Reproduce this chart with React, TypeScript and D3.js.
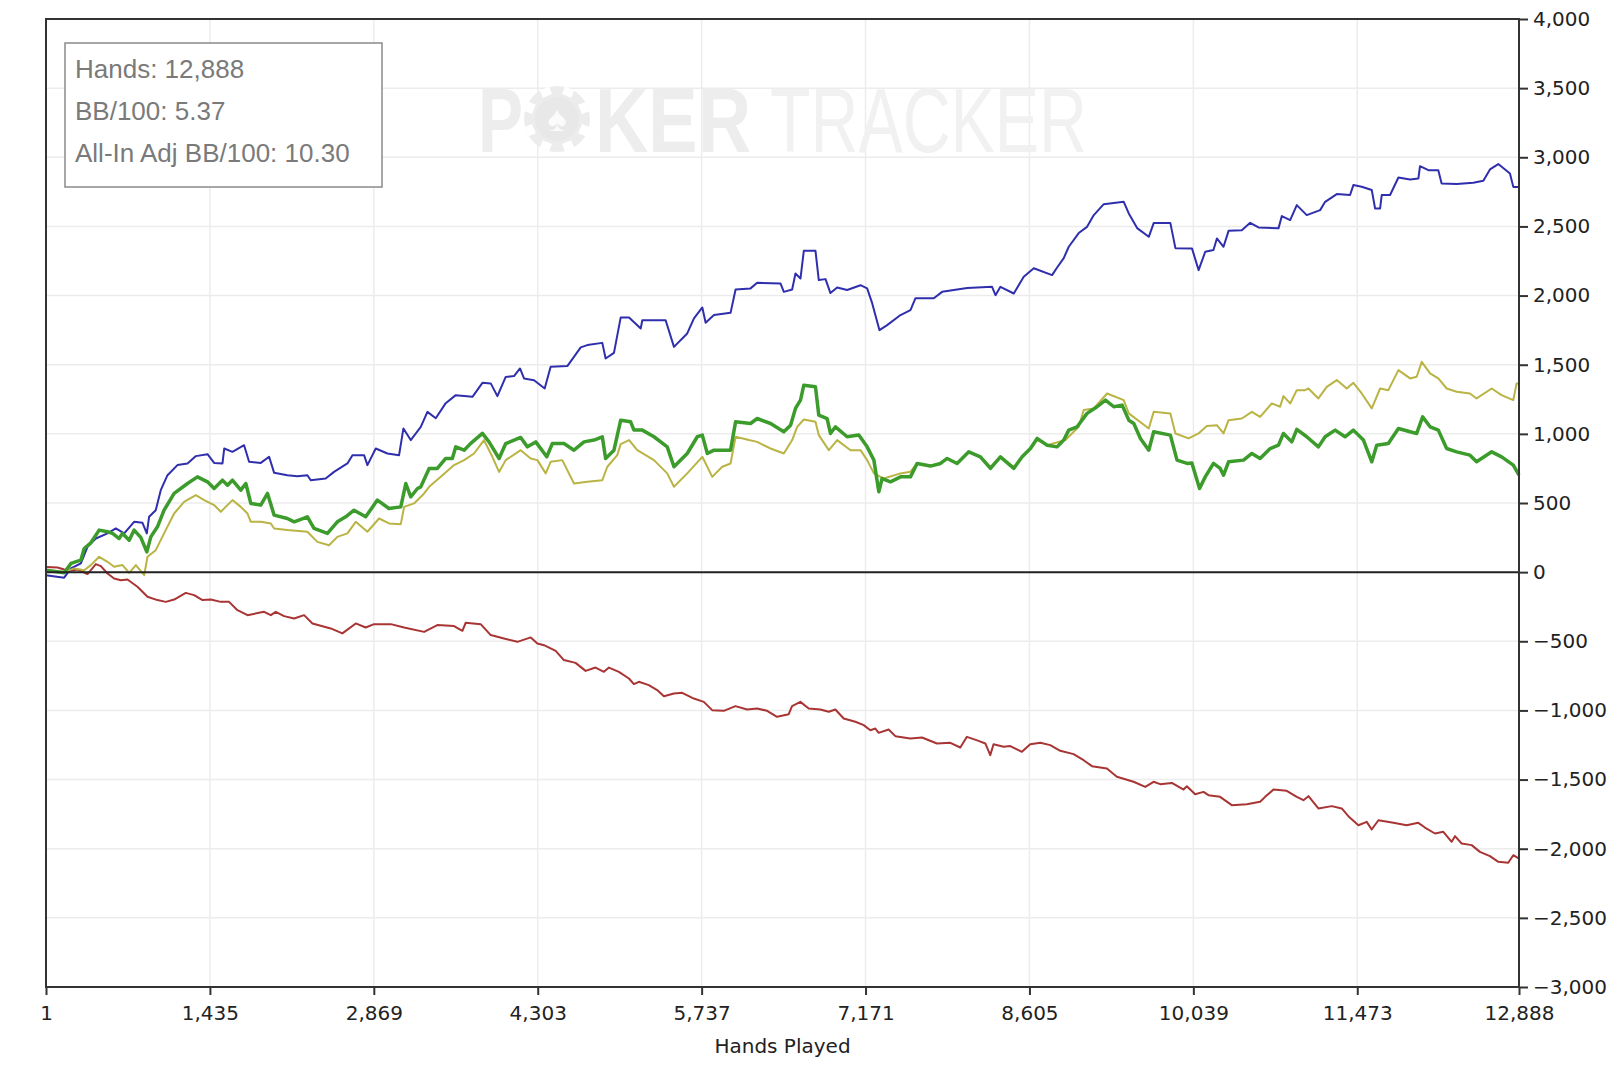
import { useEffect, useRef } from "react";
import * as d3 from "d3";

type Pt = [number, number];

const xTicks = [1, 1435, 2869, 4303, 5737, 7171, 8605, 10039, 11473, 12888];
const yTicks = [-3000, -2500, -2000, -1500, -1000, -500, 0, 500, 1000, 1500, 2000, 2500, 3000, 3500, 4000];
const statLines = ["Hands: 12,888", "BB/100: 5.37", "All-In Adj BB/100: 10.30"];

// won at showdown (blue)
const showdown: Pt[] = [
  [1, -22], [160, -40], [219, 27], [306, 63], [364, 183], [437, 243], [539, 280], [612, 316], [685, 280],
  [772, 364], [845, 357], [883, 280], [903, 400], [961, 448], [1005, 593], [1064, 701], [1151, 774],
  [1239, 786], [1312, 839], [1414, 853], [1472, 790], [1545, 786], [1560, 894], [1632, 870], [1734, 918],
  [1778, 798], [1880, 790], [1953, 834], [1997, 718], [2113, 701], [2201, 694], [2288, 701], [2317, 665],
  [2448, 677], [2521, 725], [2638, 786], [2682, 846], [2784, 846], [2813, 774], [2886, 894], [2988, 858],
  [3090, 846], [3128, 1039], [3192, 955], [3280, 1051], [3338, 1159], [3411, 1113], [3498, 1222],
  [3586, 1280], [3732, 1268], [3819, 1369], [3892, 1365], [3950, 1273], [4023, 1412], [4096, 1418],
  [4148, 1473], [4183, 1401], [4271, 1388], [4364, 1328], [4416, 1485], [4562, 1490], [4620, 1557],
  [4679, 1625], [4737, 1642], [4868, 1658], [4897, 1545], [4970, 1586], [5029, 1842], [5102, 1842],
  [5204, 1762], [5218, 1822], [5422, 1822], [5495, 1629], [5611, 1726], [5670, 1835], [5743, 1914],
  [5772, 1803], [5845, 1859], [5990, 1875], [6034, 2044], [6165, 2052], [6223, 2092], [6427, 2088],
  [6456, 2027], [6529, 2044], [6558, 2160], [6602, 2124], [6631, 2324], [6733, 2324], [6762, 2112],
  [6821, 2119], [6864, 2018], [6923, 2059], [7010, 2040], [7127, 2075], [7185, 2052], [7229, 1945],
  [7293, 1750], [7360, 1786], [7477, 1859], [7564, 1895], [7608, 1981], [7768, 1981], [7841, 2027],
  [8060, 2054], [8278, 2063], [8308, 2003], [8351, 2063], [8468, 2015], [8555, 2136], [8643, 2198],
  [8803, 2148], [8847, 2203], [8905, 2271], [8949, 2353], [9036, 2452], [9109, 2497], [9168, 2582],
  [9255, 2661], [9430, 2678], [9474, 2594], [9547, 2488], [9649, 2425], [9692, 2524], [9838, 2524],
  [9882, 2343], [10027, 2341], [10085, 2184], [10143, 2317], [10215, 2329], [10245, 2413], [10303, 2353],
  [10347, 2468], [10463, 2473], [10536, 2526], [10609, 2493], [10784, 2486], [10813, 2575], [10886, 2546],
  [10944, 2654], [11031, 2582], [11148, 2618], [11192, 2678], [11294, 2734], [11410, 2727], [11439, 2799],
  [11512, 2787], [11600, 2763], [11629, 2630], [11673, 2630], [11687, 2727], [11760, 2727], [11833, 2854],
  [11935, 2840], [12008, 2847], [12022, 2936], [12095, 2907], [12182, 2907], [12211, 2811], [12343, 2806],
  [12488, 2816], [12576, 2830], [12634, 2912], [12707, 2951], [12809, 2883], [12838, 2786], [12888, 2786],
];

// net won (green)
const netWon: Pt[] = [
  [1, 14], [160, -5], [219, 63], [306, 87], [335, 171], [393, 212], [466, 304], [539, 292], [583, 280],
  [641, 243], [670, 280], [729, 231], [772, 304], [830, 251], [883, 147], [918, 255], [976, 328],
  [1034, 448], [1122, 569], [1239, 641], [1326, 689], [1414, 653], [1472, 605], [1545, 665], [1589, 629],
  [1632, 665], [1705, 593], [1749, 641], [1793, 497], [1880, 485], [1939, 569], [1997, 412], [2113, 388],
  [2172, 364], [2288, 400], [2346, 316], [2463, 280], [2550, 364], [2623, 400], [2696, 448], [2798, 400],
  [2900, 521], [3002, 460], [3105, 472], [3149, 641], [3192, 545], [3251, 605], [3280, 617], [3353, 750],
  [3425, 750], [3498, 822], [3556, 822], [3586, 906], [3659, 882], [3717, 931], [3819, 1003], [3877, 942],
  [3965, 822], [4023, 930], [4154, 974], [4213, 906], [4286, 942], [4382, 834], [4431, 930], [4533, 930],
  [4620, 882], [4708, 942], [4795, 955], [4868, 979], [4897, 822], [4970, 882], [5029, 1099], [5116, 1087],
  [5145, 1027], [5218, 1027], [5320, 979], [5436, 906], [5495, 762], [5611, 858], [5699, 979], [5743, 991],
  [5787, 858], [5845, 882], [5990, 882], [6034, 1087], [6165, 1075], [6223, 1111], [6340, 1075],
  [6456, 1015], [6515, 1063], [6558, 1184], [6602, 1244], [6631, 1352], [6733, 1340], [6762, 1135],
  [6835, 1111], [6864, 1003], [6908, 1051], [7010, 979], [7112, 991], [7185, 906], [7244, 810], [7287, 581],
  [7316, 677], [7389, 653], [7477, 689], [7564, 689], [7622, 786], [7739, 767], [7827, 786], [7885, 822],
  [7972, 786], [8074, 870], [8176, 834], [8264, 750], [8351, 834], [8468, 750], [8541, 834], [8614, 894],
  [8672, 967], [8760, 918], [8847, 906], [8905, 955], [8949, 1027], [9022, 1051], [9109, 1148],
  [9197, 1196], [9270, 1244], [9343, 1196], [9416, 1208], [9474, 1099], [9518, 1075], [9576, 967],
  [9649, 882], [9692, 1015], [9838, 991], [9896, 810], [9984, 786], [10026, 790], [10093, 605],
  [10143, 689], [10215, 786], [10274, 750], [10303, 701], [10347, 798], [10478, 810], [10551, 858],
  [10623, 822], [10711, 894], [10784, 918], [10827, 1003], [10900, 942], [10944, 1032], [11031, 979],
  [11133, 906], [11192, 979], [11279, 1027], [11366, 979], [11439, 1027], [11527, 955], [11600, 798],
  [11643, 918], [11745, 931], [11833, 1039], [11935, 1015], [11993, 1003], [12045, 1123], [12110, 1051],
  [12182, 1027], [12255, 894], [12343, 870], [12459, 846], [12517, 798], [12649, 870], [12736, 834],
  [12838, 774], [12888, 701],
];

// all-in EV (olive)
const allInEv: Pt[] = [
  [1, 14], [160, 2], [248, 27], [335, 14], [393, 51], [466, 111], [539, 75], [597, 39], [670, 51],
  [729, -5], [787, 51], [860, -22], [889, 111], [961, 159], [1034, 280], [1122, 424], [1209, 508],
  [1312, 557], [1385, 521], [1472, 485], [1530, 436], [1632, 521], [1705, 472], [1764, 424], [1793, 364],
  [1880, 364], [1968, 352], [1997, 316], [2113, 304], [2288, 292], [2375, 219], [2477, 195], [2550, 255],
  [2638, 280], [2711, 364], [2813, 292], [2915, 388], [3002, 352], [3105, 347], [3134, 472], [3221, 497],
  [3309, 569], [3353, 617], [3455, 689], [3571, 774], [3659, 810], [3746, 858], [3833, 955], [3906, 834],
  [3965, 725], [4023, 810], [4154, 882], [4242, 822], [4300, 810], [4373, 714], [4416, 798], [4518, 810],
  [4620, 641], [4737, 653], [4868, 665], [4912, 762], [4999, 846], [5029, 926], [5102, 955], [5174, 882],
  [5320, 810], [5436, 714], [5495, 617], [5611, 714], [5743, 834], [5830, 689], [5917, 762], [5990, 786],
  [6034, 979], [6151, 955], [6223, 942], [6340, 894], [6456, 858], [6529, 955], [6573, 1051], [6631, 1104],
  [6733, 1087], [6762, 991], [6850, 882], [6923, 955], [7040, 882], [7127, 882], [7185, 810], [7244, 714],
  [7331, 677], [7477, 714], [7564, 726], [7622, 786], [7739, 767], [7827, 786], [7885, 822], [7972, 786],
  [8074, 870], [8176, 834], [8264, 760], [8351, 834], [8468, 760], [8541, 834], [8614, 894], [8672, 955],
  [8760, 918], [8920, 955], [9036, 1051], [9080, 1172], [9168, 1184], [9284, 1292], [9430, 1244],
  [9474, 1148], [9649, 1039], [9692, 1159], [9838, 1148], [9882, 1003], [9998, 967], [10084, 1003],
  [10157, 1056], [10245, 1063], [10303, 1003], [10347, 1099], [10463, 1111], [10551, 1159], [10623, 1123],
  [10725, 1220], [10798, 1196], [10827, 1273], [10886, 1220], [10944, 1316], [11017, 1316], [11046, 1328],
  [11133, 1256], [11206, 1340], [11294, 1389], [11381, 1328], [11439, 1369], [11512, 1292], [11600, 1184],
  [11673, 1328], [11745, 1316], [11833, 1461], [11935, 1401], [11993, 1413], [12037, 1521], [12110, 1437],
  [12182, 1401], [12255, 1328], [12343, 1304], [12459, 1292], [12517, 1256], [12649, 1328], [12736, 1280],
  [12838, 1244], [12867, 1365], [12888, 1365],
];

// won without showdown (red)
const nonShowdown: Pt[] = [
  [1, 38], [102, 34], [160, 19], [219, 10], [277, 19], [364, -14], [437, 58], [481, 43], [539, -10],
  [597, -46], [656, -58], [714, -53], [801, -106], [889, -178], [976, -202], [1049, -215], [1122, -198],
  [1224, -150], [1297, -166], [1370, -202], [1443, -198], [1530, -215], [1603, -215], [1676, -275],
  [1764, -311], [1909, -287], [1968, -311], [2011, -287], [2084, -318], [2172, -335], [2259, -311],
  [2332, -371], [2492, -407], [2594, -443], [2711, -371], [2798, -400], [2871, -376], [3017, -376],
  [3134, -400], [3309, -432], [3425, -383], [3571, -390], [3644, -424], [3673, -366], [3804, -376],
  [3892, -455], [4008, -480], [4125, -504], [4242, -472], [4300, -516], [4358, -528], [4460, -569],
  [4532, -636], [4634, -656], [4722, -714], [4809, -690], [4882, -721], [4926, -690], [5013, -721],
  [5101, -769], [5144, -810], [5188, -793], [5275, -817], [5348, -853], [5407, -897], [5494, -877],
  [5567, -873], [5669, -914], [5756, -938], [5829, -998], [5931, -1003], [6033, -969], [6135, -993],
  [6223, -986], [6310, -1003], [6397, -1046], [6499, -1027], [6528, -969], [6601, -938], [6674, -986],
  [6776, -993], [6849, -1010], [6907, -993], [6980, -1058], [7082, -1082], [7155, -1106], [7213, -1143],
  [7257, -1131], [7286, -1162], [7373, -1138], [7432, -1186], [7563, -1203], [7665, -1196], [7796, -1239],
  [7913, -1234], [8000, -1268], [8058, -1191], [8160, -1220], [8219, -1239], [8262, -1323], [8291, -1244],
  [8379, -1263], [8437, -1258], [8539, -1299], [8612, -1244], [8700, -1234], [8787, -1251], [8875, -1292],
  [8991, -1316], [9079, -1360], [9152, -1403], [9283, -1420], [9370, -1480], [9516, -1516], [9618, -1553],
  [9691, -1516], [9749, -1533], [9851, -1524], [9953, -1572], [9982, -1548], [10055, -1606], [10128, -1589],
  [10171, -1613], [10273, -1625], [10375, -1685], [10507, -1678], [10623, -1661], [10667, -1625],
  [10740, -1572], [10856, -1581], [10944, -1625], [11002, -1649], [11046, -1620], [11133, -1709],
  [11250, -1692], [11337, -1709], [11395, -1765], [11483, -1830], [11556, -1806], [11599, -1861],
  [11658, -1794], [11789, -1813], [11905, -1830], [12007, -1813], [12065, -1847], [12153, -1890],
  [12226, -1878], [12299, -1950], [12328, -1909], [12386, -1962], [12474, -1974], [12546, -2023],
  [12634, -2054], [12707, -2095], [12794, -2102], [12838, -2047], [12888, -2071],
];

const W = 1624;
const H = 1066;

export default function App() {
  const svgRef = useRef<SVGSVGElement>(null);

  useEffect(() => {
    if (!svgRef.current) return;
    const svg = d3.select(svgRef.current);
    svg.selectAll("*").remove();

    const left = 46;
    const right = 1519;
    const top = 19;
    const bottom = 987;

    const x = d3.scaleLinear().domain([1, 12888]).range([left, right]);
    const y = d3.scaleLinear().domain([-3000, 4000]).range([bottom, top]);
    const axisFont = "'DejaVu Sans', Verdana, sans-serif";

    svg.append("rect").attr("width", W).attr("height", H).attr("fill", "#fff");

    // grid
    const grid = svg.append("g").attr("stroke", "#ececec").attr("stroke-width", 1.5);
    grid
      .selectAll("line.h")
      .data(yTicks)
      .join("line")
      .attr("class", "h")
      .attr("x1", left)
      .attr("x2", right)
      .attr("y1", (d) => y(d))
      .attr("y2", (d) => y(d));
    grid
      .selectAll("line.v")
      .data(xTicks)
      .join("line")
      .attr("class", "v")
      .attr("x1", (d) => x(d))
      .attr("x2", (d) => x(d))
      .attr("y1", top)
      .attr("y2", bottom);

    // watermark
    const wm = svg.append("g").style("font-family", "'Liberation Sans', Arial, sans-serif");
    wm.append("text")
      .attr("x", 478)
      .attr("y", 152)
      .attr("textLength", 45)
      .attr("lengthAdjust", "spacingAndGlyphs")
      .style("font-size", "90px")
      .style("font-weight", "700")
      .style("fill", "#ededed")
      .text("P");
    const chip = wm.append("g").attr("transform", "translate(557,119)");
    chip.append("circle").attr("r", 33).attr("fill", "#ececec");
    d3.range(8).forEach((i) => {
      chip
        .append("rect")
        .attr("x", -5)
        .attr("y", -33)
        .attr("width", 10)
        .attr("height", 8)
        .attr("fill", "#fff")
        .attr("transform", `rotate(${i * 45 + 22.5})`);
    });
    chip.append("circle").attr("r", 22).attr("fill", "#e8e8e8");
    chip
      .append("text")
      .attr("text-anchor", "middle")
      .attr("y", 12)
      .style("font-size", "36px")
      .style("fill", "#fbfbfb")
      .text("\u2660");
    wm.append("text")
      .attr("x", 595)
      .attr("y", 152)
      .attr("textLength", 156)
      .attr("lengthAdjust", "spacingAndGlyphs")
      .style("font-size", "90px")
      .style("font-weight", "700")
      .style("fill", "#ededed")
      .text("KER");
    wm.append("text")
      .attr("x", 770)
      .attr("y", 152)
      .attr("textLength", 317)
      .attr("lengthAdjust", "spacingAndGlyphs")
      .style("font-size", "90px")
      .style("fill", "#f1f1f1")
      .text("TRACKER");

    // series
    const line = d3
      .line<Pt>()
      .x((d) => x(d[0]))
      .y((d) => y(d[1]));

    const series: { data: Pt[]; color: string; width: number }[] = [
      { data: nonShowdown, color: "#a83434", width: 2 },
      { data: showdown, color: "#2f2fae", width: 2 },
      { data: allInEv, color: "#b9b443", width: 2 },
      { data: netWon, color: "#3b9b2b", width: 3.5 },
    ];
    series.forEach((s) => {
      svg
        .append("path")
        .datum(s.data)
        .attr("fill", "none")
        .attr("stroke", s.color)
        .attr("stroke-width", s.width)
        .attr("stroke-linejoin", "round")
        .attr("d", line);
    });

    // zero line
    svg
      .append("line")
      .attr("x1", left)
      .attr("x2", right)
      .attr("y1", y(0))
      .attr("y2", y(0))
      .attr("stroke", "#222")
      .attr("stroke-width", 2);

    // frame
    svg
      .append("rect")
      .attr("x", left)
      .attr("y", top)
      .attr("width", right - left)
      .attr("height", bottom - top)
      .attr("fill", "none")
      .attr("stroke", "#333")
      .attr("stroke-width", 2);

    // right axis
    const yAxis = svg
      .append("g")
      .attr("transform", `translate(${right},0)`)
      .call(d3.axisRight(y).tickValues(yTicks).tickSize(9).tickPadding(5).tickFormat(d3.format(",")));
    yAxis.select(".domain").remove();
    yAxis.selectAll(".tick line").attr("stroke", "#333").attr("stroke-width", 2);
    yAxis
      .selectAll("text")
      .style("font-family", axisFont)
      .style("font-size", "20px")
      .style("fill", "#222");

    // bottom axis
    const xAxis = svg
      .append("g")
      .attr("transform", `translate(0,${bottom})`)
      .call(d3.axisBottom(x).tickValues(xTicks).tickSize(8).tickPadding(11).tickFormat(d3.format(",")));
    xAxis.select(".domain").remove();
    xAxis.selectAll(".tick line").attr("stroke", "#333").attr("stroke-width", 2);
    xAxis
      .selectAll("text")
      .style("font-family", axisFont)
      .style("font-size", "20px")
      .style("fill", "#222");

    svg
      .append("text")
      .attr("x", (left + right) / 2)
      .attr("y", 1053)
      .attr("text-anchor", "middle")
      .style("font-family", axisFont)
      .style("font-size", "20px")
      .style("fill", "#222")
      .text("Hands Played");

    // stats box
    svg
      .append("rect")
      .attr("x", 65)
      .attr("y", 43)
      .attr("width", 317)
      .attr("height", 144)
      .attr("fill", "#fff")
      .attr("stroke", "#8a8a8a")
      .attr("stroke-width", 1.5);
    svg
      .selectAll("text.stat")
      .data(statLines)
      .join("text")
      .attr("class", "stat")
      .attr("x", 75)
      .attr("y", (_, i) => 78 + i * 42)
      .style("font-family", "'Liberation Sans', Arial, sans-serif")
      .style("font-size", "26px")
      .style("fill", "#7a7a7a")
      .text((d) => d);
  }, []);

  return (
    <div style={{ position: "absolute", left: 0, top: 0 }}>
      <svg ref={svgRef} width={W} height={H} style={{ display: "block" }} />
    </div>
  );
}
